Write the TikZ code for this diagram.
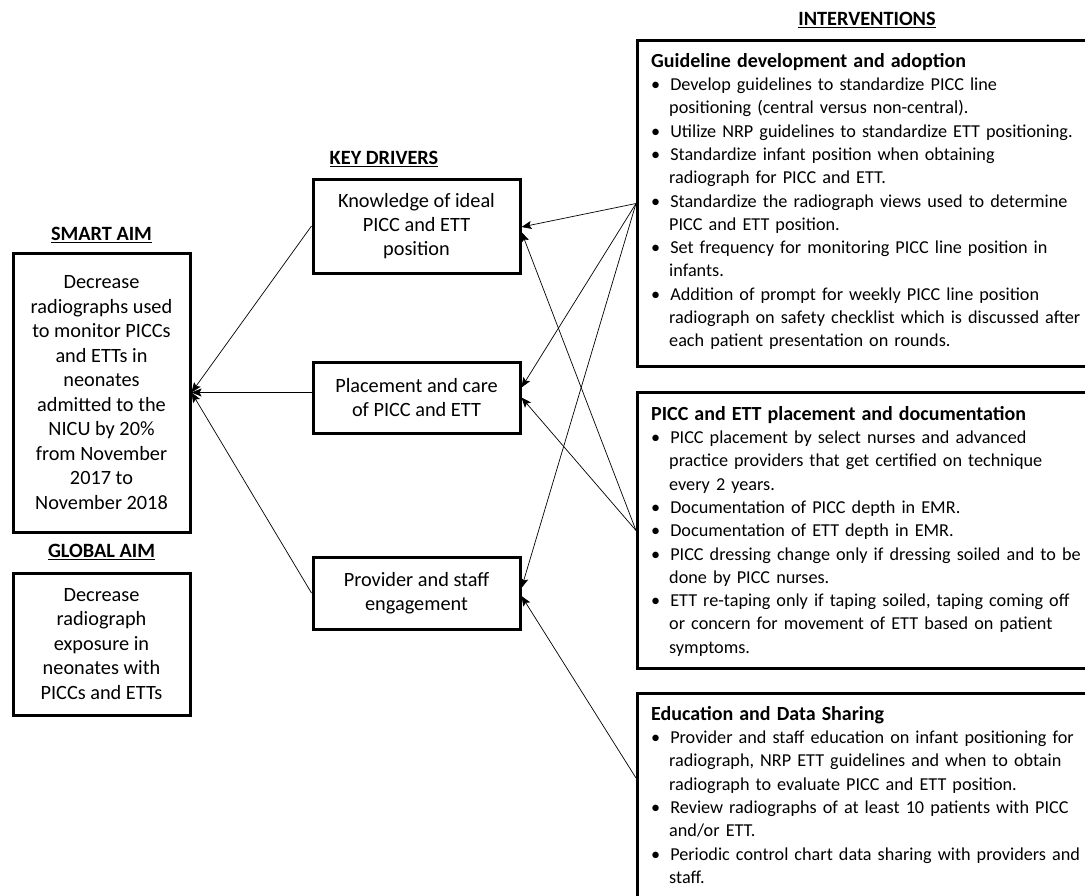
\documentclass[tikz,border=0pt]{standalone}
\usepackage{fontspec}
\setmainfont{Carlito}
\usetikzlibrary{arrows.meta,positioning}

\newenvironment{ivlist}{\begin{list}{\textbullet}{\setlength{\leftmargin}{18pt}\setlength{\labelwidth}{8pt}\setlength{\labelsep}{10pt}\setlength{\itemsep}{0pt}\setlength{\parsep}{0pt}\setlength{\topsep}{0pt}\setlength{\partopsep}{0pt}}}{\end{list}}
\newcommand{\ivtitle}[1]{{\fontsize{20}{23.3}\selectfont\bfseries #1}\par}

\begin{document}
\begin{tikzpicture}[x=1pt,y=-1pt]
		\tikzstyle{Aim}		= [draw, line width=3pt, align=center, inner sep=0pt, font=\fontsize{20.3}{24.5}\selectfont]
		\tikzstyle{Driver}	= [draw, line width=3pt, align=center, inner sep=0pt, minimum width=207pt, font=\fontsize{20.3}{24}\selectfont]
		\tikzstyle{Head}	= [inner sep=0pt, font=\fontsize{20.3}{24}\selectfont\bfseries]
		\tikzstyle{Frame}	= [draw, line width=3pt, anchor=north west, inner sep=0pt]
		\tikzstyle{Items}	= [anchor=north west, inner sep=0pt, text width=450pt, align=left, font=\fontsize{18.2}{23.3}\selectfont]
		\tikzstyle{Link}	= [line width=0.7pt, -{Stealth[length=10pt,width=8pt,inset=2pt]}]

		\useasboundingbox (0,0) rectangle (1085,895);
		\clip (0,0) rectangle (1085,895);

		% headings
		\node (smarthead) at (101.5,235) [Head] {\underline{SMART AIM}};
		\node (globalhead) at (101.5,552) [Head] {\underline{GLOBAL AIM}};
		\node (keyhead) at (384,159) [Head] {\underline{KEY DRIVERS}};
		\node (ivhead) at (867,20) [Head] {\underline{INTERVENTIONS}};

		% aims
		\node (smart) at (101.5,392.5) [Aim, minimum width=177pt, minimum height=279pt] {Decrease\\radiographs used\\to monitor PICCs\\and ETTs in\\neonates\\admitted to the\\NICU by 20\%\\from November\\2017 to\\November 2018};
		\node (global) at (101.5,644) [Aim, minimum width=177pt, minimum height=142pt] {Decrease\\radiograph\\exposure in\\neonates with\\PICCs and ETTs};

		% key drivers
		\node (know) at (416.5,226) [Driver, minimum height=94pt] {Knowledge of ideal\\PICC and ETT\\position};
		\node (place) at (416.5,397.5) [Driver, minimum height=71pt] {Placement and care\\of PICC and ETT};
		\node (staff) at (416.5,593) [Driver, minimum height=72pt] {Provider and staff\\engagement};

		% interventions
		\node (guide) at (636,39) [Frame, minimum width=470pt, minimum height=326pt] {};
		\node (doc) at (636,391) [Frame, minimum width=470pt, minimum height=276pt] {};
		\node (edu) at (636,692) [Frame, minimum width=470pt, minimum height=260pt] {};
		\coordinate (eduout) at (636,778);

		\node (guidetext) at (651,53) [Items] {\ivtitle{Guideline development and adoption}
			\begin{ivlist}
			\item Develop guidelines to standardize PICC line\newline positioning (central versus non-central).
			\item Utilize NRP guidelines to standardize ETT positioning.
			\item Standardize infant position when obtaining\newline radiograph for PICC and ETT.
			\item Standardize the radiograph views used to determine\newline PICC and ETT position.
			\item Set frequency for monitoring PICC line position in\newline infants.
			\item Addition of prompt for weekly PICC line position\newline radiograph on safety checklist which is discussed after\newline each patient presentation on rounds.
			\end{ivlist}};
		\node (doctext) at (651,406) [Items] {\ivtitle{PICC and ETT placement and documentation}
			\begin{ivlist}
			\item PICC placement by select nurses and advanced\newline practice providers that get certified on technique\newline every 2 years.
			\item Documentation of PICC depth in EMR.
			\item Documentation of ETT depth in EMR.
			\item PICC dressing change only if dressing soiled and to be\newline done by PICC nurses.
			\item ETT re-taping only if taping soiled, taping coming off\newline or concern for movement of ETT based on patient\newline symptoms.
			\end{ivlist}};
		\node (edutext) at (651,706) [Items] {\ivtitle{Education and Data Sharing}
			\begin{ivlist}
			\item Provider and staff education on infant positioning for\newline radiograph, NRP ETT guidelines and when to obtain\newline radiograph to evaluate PICC and ETT position.
			\item Review radiographs of at least 10 patients with PICC\newline and/or ETT.
			\item Periodic control chart data sharing with providers and\newline staff.
			\end{ivlist}};

		% drivers to aim
		\draw [Link] (know.west) to (smart.east);
		\draw [Link] (place.west |- smart.east) to (smart.east);
		\draw [Link] (staff.west) to (smart.east);

		% interventions to drivers
		\draw [Link] (guide.west) to ([yshift=-1pt]know.east);
		\draw [Link] (guide.west) to ([yshift=10pt]place.east);
		\draw [Link] (guide.west) to ([yshift=5pt]staff.east);
		\draw [Link] (doc.west) to ([yshift=-6pt]know.east);
		\draw [Link] (doc.west) to (place.east);
		\draw [Link] (eduout) to ([yshift=-3pt]staff.east);
	\end{tikzpicture}
\end{document}
